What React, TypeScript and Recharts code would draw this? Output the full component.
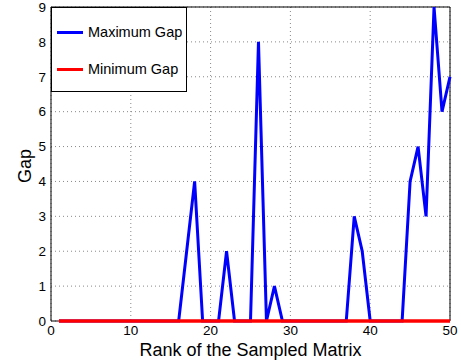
import React from 'react';
import { LineChart, Line, XAxis, YAxis, CartesianGrid, Legend, ReferenceLine } from 'recharts';

const ranks = Array.from({ length: 50 }, (_, i) => i + 1);
const maxGap = [
  0, 0, 0, 0, 0, 0, 0, 0, 0, 0,
  0, 0, 0, 0, 0, 0, 2, 4, 0, 0,
  0, 2, 0, 0, 0, 8, 0, 1, 0, 0,
  0, 0, 0, 0, 0, 0, 0, 3, 2, 0,
  0, 0, 0, 0, 4, 5, 3, 9, 6, 7,
];
const minGap = [
  0, 0, 0, 0, 0, 0, 0, 0, 0, 0,
  0, 0, 0, 0, 0, 0, 0, 0, 0, 0,
  0, 0, 0, 0, 0, 0, 0, 0, 0, 0,
  0, 0, 0, 0, 0, 0, 0, 0, 0, 0,
  0, 0, 0, 0, 0, 0, 0, 0, 0, 0,
];
const xTicks = [0, 10, 20, 30, 40, 50];
const yTicks = [0, 1, 2, 3, 4, 5, 6, 7, 8, 9];

const data = ranks.map((r, i) => ({ rank: r, max: maxGap[i], min: minGap[i] }));

const FONT = '"Liberation Sans", Arial, Helvetica, sans-serif';

const LegendBox = (props: any) => {
  const payload = props.payload || [];
  return (
    <div
      style={{
        width: 134,
        height: 83,
        border: '1px solid #000',
        background: '#fff',
        fontFamily: FONT,
        fontSize: 14.5,
        color: '#000',
        position: 'relative',
        boxSizing: 'content-box',
      }}
    >
      {payload.map((p: any, i: number) => (
        <div
          key={i}
          style={{
            position: 'absolute',
            left: 0,
            top: 14 + i * 37,
            height: 20,
            display: 'flex',
            alignItems: 'center',
            whiteSpace: 'nowrap',
          }}
        >
          <div style={{ width: 26, height: 3, background: p.color, marginLeft: 5, marginRight: 5 }} />
          <span>{p.value}</span>
        </div>
      ))}
    </div>
  );
};

export default function App() {
  return (
    <div style={{ position: 'absolute', left: 0, top: 0, width: 461, height: 362, background: '#fff' }}>
      <LineChart
        width={461}
        height={362}
        data={data}
        margin={{ top: 7, right: 11, left: 0, bottom: 0 }}
        style={{ fontFamily: FONT }}
      >
        <CartesianGrid stroke="#888" strokeDasharray="1 3" />
        <XAxis
          dataKey="rank"
          type="number"
          domain={[0, 50]}
          ticks={xTicks}
          interval={0}
          height={41}
          tickLine={false}
          tickSize={3}
          tickMargin={1}
          axisLine={false}
          tick={{ fill: '#000', fontSize: 13.5 }}
          label={{ value: 'Rank of the Sampled Matrix', position: 'center', dy: 8, fill: '#000', fontSize: 18 }}
        />
        <YAxis
          type="number"
          domain={[0, 9]}
          ticks={yTicks}
          interval={0}
          width={51}
          tickLine={false}
          tickSize={3}
          tickMargin={2}
          axisLine={{ stroke: '#000', strokeWidth: 1 }}
          tick={{ fill: '#000', fontSize: 13.5 }}
          label={{ value: 'Gap', position: 'center', angle: -90, dx: -1, dy: 2, fill: '#000', fontSize: 18 }}
        />
        <ReferenceLine y={9} stroke="#000" strokeWidth={1} />
        <ReferenceLine x={50} stroke="#000" strokeWidth={1} />
        <ReferenceLine segment={[{ x: 0, y: 0 }, { x: 1, y: 0 }]} stroke="#000" strokeWidth={1} />
        <Line
          dataKey="max"
          name="Maximum Gap"
          stroke="#0000ff"
          strokeWidth={3}
          dot={false}
          isAnimationActive={false}
          strokeLinejoin="miter"
        />
        <Line
          dataKey="min"
          name="Minimum Gap"
          stroke="#ff0000"
          strokeWidth={3.4}
          dot={false}
          isAnimationActive={false}
        />
        <Legend
          layout="vertical"
          verticalAlign="middle"
          align="center"
          content={<LegendBox />}
          wrapperStyle={{ position: 'absolute', top: 7, left: 51, width: 136, height: 85 }}
        />
      </LineChart>
    </div>
  );
}
